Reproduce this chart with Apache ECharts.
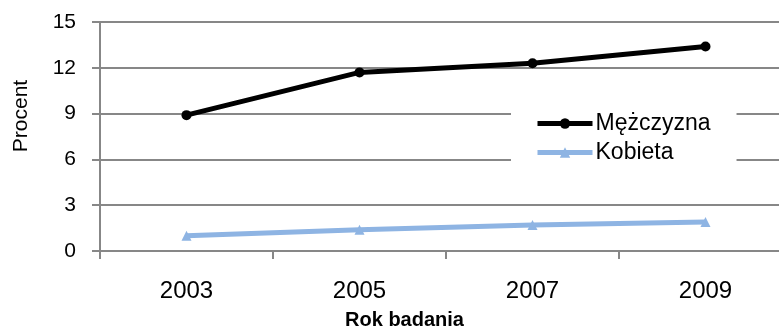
<!DOCTYPE html>
<html>
<head>
<meta charset="utf-8">
<script src="https://cdn.jsdelivr.net/npm/echarts@6/dist/echarts.min.js"></script>
<style>
html,body{margin:0;padding:0;background:#fff;overflow:hidden;width:779px;height:329px;}
#c{width:792px;height:329px;}
</style>
</head>
<body>
<div id="c"></div>
<script>
var categories = ['2003', '2005', '2007', '2009'];
var menValues = [8.9, 11.7, 12.3, 13.4];
var womenValues = [1.0, 1.4, 1.7, 1.9];
var seriesNames = ['Mężczyzna', 'Kobieta'];
var yTicks = [0, 3, 6, 9, 12, 15];

var FONT = 'Liberation Sans';
var GRID = '#878787';
var chart = echarts.init(document.getElementById('c'), null, {renderer: 'canvas'});
chart.setOption({
  animation: false,
  backgroundColor: '#ffffff',
  grid: {left: 100, top: 22, right: 0, bottom: 78, containLabel: false},
  xAxis: {
    type: 'category',
    data: categories,
    boundaryGap: true,
    axisLine: {show: true, lineStyle: {color: GRID, width: 2}},
    axisTick: {show: true, length: 8, lineStyle: {color: GRID, width: 2}},
    axisLabel: {fontFamily: FONT, fontSize: 24, color: '#000', margin: 28},
    splitLine: {show: false}
  },
  yAxis: {
    type: 'value',
    min: yTicks[0],
    max: yTicks[yTicks.length - 1],
    interval: yTicks[1] - yTicks[0],
    axisLine: {show: true, lineStyle: {color: GRID, width: 2}},
    axisTick: {show: true, length: 8, lineStyle: {color: GRID, width: 2}},
    axisLabel: {fontFamily: FONT, fontSize: 21, color: '#000', margin: 24},
    splitLine: {show: true, lineStyle: {color: GRID, width: 2}}
  },
  legend: {
    orient: 'vertical',
    left: 511,
    top: 100,
    backgroundColor: '#ffffff',
    padding: [12, 26, 12, 24],
    itemWidth: 55,
    itemHeight: 13,
    itemGap: 6,
    lineStyle: {width: 5},
    textStyle: {fontFamily: FONT, fontSize: 23, color: '#000', padding: [0, 0, 0, -2]},
    data: seriesNames
  },
  series: [
    {
      name: seriesNames[0], type: 'line', data: menValues,
      symbol: 'circle', symbolSize: 10,
      itemStyle: {color: '#000000'},
      lineStyle: {color: '#000000', width: 5}
    },
    {
      name: seriesNames[1], type: 'line', data: womenValues,
      symbol: 'triangle', symbolSize: 10,
      itemStyle: {color: '#8EB4E3'},
      lineStyle: {color: '#8EB4E3', width: 5}
    }
  ],
  graphic: [
    {type: 'text', x: 21, y: 116, rotation: Math.PI / 2,
     style: {text: 'Procent', fontFamily: FONT, fontSize: 21, fill: '#000', align: 'center', verticalAlign: 'middle'}},
    {type: 'text', x: 404.5, y: 320.5,
     style: {text: 'Rok badania', fontFamily: FONT, fontSize: 20, fontWeight: 'bold', fill: '#000', align: 'center', verticalAlign: 'middle'}}
  ]
});
</script>
</body>
</html>
